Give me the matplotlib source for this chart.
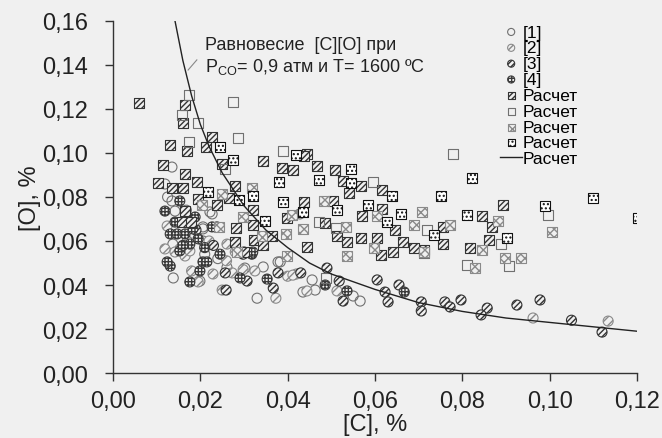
import matplotlib
matplotlib.use("Agg")
import matplotlib.pyplot as plt
from matplotlib.lines import Line2D
from matplotlib.ticker import FuncFormatter

plt.rcParams['font.family'] = ['Liberation Sans', 'DejaVu Sans']
plt.rcParams['mathtext.fontset'] = 'custom'
plt.rcParams['mathtext.rm'] = 'Liberation Sans'
plt.rcParams['mathtext.it'] = 'Liberation Sans'
plt.rcParams['hatch.linewidth'] = 1.0

# experimental points, [C] and [O] in %
c_1 = [0.0135, 0.0119, 0.0135, 0.0142, 0.0137, 0.0206, 0.0222, 0.0227, 0.0206, 0.0206,
       0.021, 0.0138, 0.0199, 0.0302, 0.0344, 0.0378, 0.033, 0.0456, 0.0566, 0.055,
       0.0435, 0.0463, 0.0383, 0.0428, 0.0261, 0.0168, 0.0125, 0.017, 0.024]
o_1 = [0.0936, 0.0859, 0.0782, 0.0736, 0.0586, 0.0664, 0.0732, 0.0723, 0.0655, 0.0600,
       0.054, 0.0432, 0.0418, 0.0477, 0.0482, 0.0505, 0.034, 0.0423, 0.0327, 0.035,
       0.0368, 0.0377, 0.0505, 0.0723, 0.048, 0.074, 0.080, 0.060, 0.052]

c_2 = [0.0124, 0.0153, 0.0119, 0.017, 0.0142, 0.0195, 0.018, 0.0165, 0.0176, 0.0229,
       0.026, 0.0325, 0.0273, 0.025, 0.0373, 0.040, 0.042, 0.0412, 0.0513, 0.0444,
       0.0261, 0.028, 0.0962, 0.1134, 0.0298, 0.022]
o_2 = [0.0668, 0.0564, 0.0564, 0.0709, 0.055, 0.0414, 0.0464, 0.0532, 0.0555, 0.045,
       0.051, 0.0464, 0.0455, 0.0377, 0.034, 0.044, 0.045, 0.0445, 0.0373, 0.0373,
       0.0586, 0.055, 0.025, 0.0236, 0.047, 0.060]

c_3 = [0.049, 0.043, 0.0518, 0.0527, 0.0605, 0.0623, 0.063, 0.0655, 0.0706, 0.0706,
       0.076, 0.0772, 0.0797, 0.0857, 0.0843, 0.0925, 0.0978, 0.105, 0.112, 0.0378,
       0.0367, 0.0307, 0.0259, 0.0257, 0.0298, 0.030, 0.023, 0.019]
o_3 = [0.0477, 0.0455, 0.0418, 0.0327, 0.0423, 0.0368, 0.0323, 0.040, 0.0323, 0.0282,
       0.0323, 0.030, 0.0332, 0.0295, 0.0264, 0.0309, 0.0332, 0.024, 0.0186, 0.0455,
       0.0386, 0.0418, 0.0377, 0.0455, 0.054, 0.055, 0.058, 0.065]

c_4 = [0.0153, 0.0119, 0.0142, 0.0131, 0.0147, 0.0165, 0.0183, 0.0195, 0.0176, 0.0188,
       0.0238, 0.0227, 0.0131, 0.0176, 0.0199, 0.0206, 0.0153, 0.0215, 0.0245, 0.0318,
       0.0291, 0.0353, 0.0486, 0.0536, 0.0667, 0.0124, 0.032, 0.016, 0.021]
o_4 = [0.0782, 0.0736, 0.0686, 0.0632, 0.0632, 0.0632, 0.0655, 0.061, 0.0586, 0.0709,
       0.0664, 0.0664, 0.0486, 0.0414, 0.0464, 0.0505, 0.0555, 0.0505, 0.054, 0.054,
       0.0432, 0.0427, 0.040, 0.0373, 0.0368, 0.0505, 0.055, 0.058, 0.057]

# calculated points
c_calc1 = [0.006, 0.0165, 0.016, 0.013, 0.017, 0.0227, 0.0213, 0.0344, 0.0444, 0.0114,
           0.0165, 0.0192, 0.0103, 0.0135, 0.016, 0.025, 0.0387, 0.0413, 0.028, 0.0195,
           0.0238, 0.0266, 0.032, 0.0165, 0.0158, 0.0179, 0.0282, 0.032, 0.0323, 0.0344,
           0.0364, 0.028, 0.030, 0.0399, 0.0438, 0.0467, 0.0509, 0.0527, 0.0568, 0.0541,
           0.0616, 0.0504, 0.0616, 0.0438, 0.0486, 0.057, 0.0513, 0.0536, 0.0568, 0.0605,
           0.0646, 0.0664, 0.0689, 0.0712, 0.0614, 0.0641, 0.0444, 0.0756, 0.0756, 0.0818,
           0.0845, 0.0868, 0.0893, 0.0861]
o_calc1 = [0.1228, 0.1218, 0.1136, 0.1036, 0.101, 0.1073, 0.1027, 0.0964, 0.0995, 0.0945,
           0.0905, 0.0868, 0.0864, 0.0841, 0.0841, 0.095, 0.0932, 0.0923, 0.085, 0.0791,
           0.0764, 0.0795, 0.0741, 0.0736, 0.0686, 0.0686, 0.0659, 0.0673, 0.0605, 0.0582,
           0.0623, 0.0595, 0.055, 0.0705, 0.0986, 0.0941, 0.0923, 0.0873, 0.085, 0.0818,
           0.0832, 0.0782, 0.0745, 0.0777, 0.0682, 0.0714, 0.0623, 0.0595, 0.0614, 0.0614,
           0.065, 0.0595, 0.0568, 0.0559, 0.0536, 0.055, 0.0573, 0.0664, 0.0586, 0.0566,
           0.0714, 0.0664, 0.0764, 0.0605]

c_calc2 = [0.0174, 0.0158, 0.0195, 0.0174, 0.0275, 0.0286, 0.039, 0.0257, 0.0596, 0.0779,
           0.0472, 0.0511, 0.0719, 0.0712, 0.0811, 0.0488, 0.0997, 0.0889, 0.0907]
o_calc2 = [0.1264, 0.1173, 0.1136, 0.105, 0.1232, 0.1068, 0.101, 0.0927, 0.0868, 0.0995,
           0.0686, 0.0659, 0.065, 0.0545, 0.0493, 0.0432, 0.0718, 0.0586, 0.0486]

c_calc3 = [0.0318, 0.025, 0.0204, 0.0298, 0.0243, 0.041, 0.0396, 0.0341, 0.0399, 0.0284,
           0.0483, 0.0605, 0.0708, 0.0689, 0.0772, 0.0435, 0.0534, 0.0598, 0.0536, 0.0712,
           0.0829, 0.0882, 0.1006, 0.0845, 0.0898, 0.0935]
o_calc3 = [0.0841, 0.0814, 0.0764, 0.0709, 0.0664, 0.0716, 0.0632, 0.0623, 0.053, 0.055,
           0.0782, 0.0714, 0.0732, 0.0673, 0.0673, 0.0655, 0.0664, 0.0568, 0.0532, 0.055,
           0.0477, 0.0691, 0.0641, 0.0559, 0.0523, 0.0523]

c_calc4 = [0.0245, 0.0275, 0.042, 0.038, 0.0218, 0.0289, 0.032, 0.0348, 0.039, 0.0545,
           0.0472, 0.0545, 0.0639, 0.0751, 0.0822, 0.0435, 0.0513, 0.0584, 0.066, 0.0628,
           0.0735, 0.0811, 0.099, 0.110, 0.1203, 0.0903]
o_calc4 = [0.1027, 0.0968, 0.0991, 0.0868, 0.0823, 0.0786, 0.0805, 0.069, 0.0777, 0.0927,
           0.0877, 0.0864, 0.0805, 0.0805, 0.0886, 0.0732, 0.0741, 0.0764, 0.0723, 0.0686,
           0.0627, 0.0718, 0.0759, 0.0795, 0.0705, 0.0614]

# equilibrium curve [C][O] at P_CO = 0,9 atm, 1600 C
c_eq = [0.0142, 0.016, 0.018, 0.020, 0.022, 0.025, 0.030, 0.035, 0.040, 0.045,
        0.050, 0.060, 0.070, 0.080, 0.090, 0.100, 0.110, 0.120]
o_eq = [0.160, 0.142, 0.126, 0.113, 0.103, 0.091, 0.076, 0.065, 0.057, 0.050,
        0.045, 0.038, 0.032, 0.028, 0.025, 0.023, 0.021, 0.019]

bg = '#f0f0f0'
fig = plt.figure(figsize=(6.62, 4.39), dpi=100, facecolor=bg)
ax = fig.add_axes([0.1707, 0.148, 0.7915, 0.802], facecolor=bg)

ms = 52
styles = [
    (c_1, o_1, 'o', 'none', '#707070', None, '[1]'),
    (c_2, o_2, 'o', bg, '#8a8a8a', '////', '[2]'),
    (c_3, o_3, 'o', bg, '#333333', '//////', '[3]'),
    (c_4, o_4, 'o', bg, '#3a3a3a', '+++++', '[4]'),
    (c_calc1, o_calc1, 's', bg, '#333333', '//////', 'Расчет'),
    (c_calc2, o_calc2, 's', 'none', '#707070', None, 'Расчет'),
    (c_calc3, o_calc3, 's', bg, '#8a8a8a', 'xxxx', 'Расчет'),
    (c_calc4, o_calc4, 's', 'white', '#111111', '....', 'Расчет'),
]

handles = []
for xs, ys, mk, fc, ec, hatch, label in styles:
    ax.scatter(xs, ys, s=ms, marker=mk, facecolor=fc, edgecolor=ec,
               hatch=hatch, linewidths=0.8, zorder=3)
    handles.append(ax.scatter([], [], s=ms * 0.5, marker=mk, facecolor=fc,
                              edgecolor=ec, hatch=hatch, linewidths=0.8, label=label))

ax.plot(c_eq, o_eq, color='#222222', lw=1.0, zorder=4)
handles.append(Line2D([], [], color='#222222', lw=1.0, label='Расчет'))

ax.set_xlim(0, 0.12)
ax.set_ylim(0, 0.16)
ax.set_xticks([0.00, 0.02, 0.04, 0.06, 0.08, 0.10, 0.12])
ax.set_yticks([0.00, 0.02, 0.04, 0.06, 0.08, 0.10, 0.12, 0.14, 0.16])
comma = FuncFormatter(lambda v, p: f"{v:.2f}".replace('.', ','))
ax.xaxis.set_major_formatter(comma)
ax.yaxis.set_major_formatter(comma)
ax.tick_params(direction='out', length=6, width=1, color='#333333',
               labelsize=17, labelcolor='#222222')
ax.tick_params(axis='x', pad=6)
ax.tick_params(axis='y', pad=12)
for side in ('top', 'right'):
    ax.spines[side].set_visible(False)
for side in ('left', 'bottom'):
    ax.spines[side].set_color('#333333')
    ax.spines[side].set_linewidth(1)

ax.set_xlabel('[C], %', fontsize=17, color='#222222', labelpad=1)
ax.set_ylabel('[O], %', fontsize=17, color='#222222', labelpad=1)

ax.text(0.0211, 0.1440,
        'Равновесие  [C][O] при\nP$_{\\mathrm{CO}}$= 0,9 атм и T= 1600 ºC',
        fontsize=13, color='#222222', va='center', ha='left', linespacing=1.2)
ax.plot([0.0192, 0.0172], [0.1423, 0.1377], color='#888888', lw=0.8)

fig.legend(handles=handles, loc='upper left', bbox_to_anchor=(0.742, 0.962),
           frameon=False, fontsize=12.5, handlelength=1.3, handletextpad=0.0,
           labelspacing=0.04, borderpad=0, scatterpoints=1)

fig.savefig('out.png', dpi=100, facecolor=bg)
